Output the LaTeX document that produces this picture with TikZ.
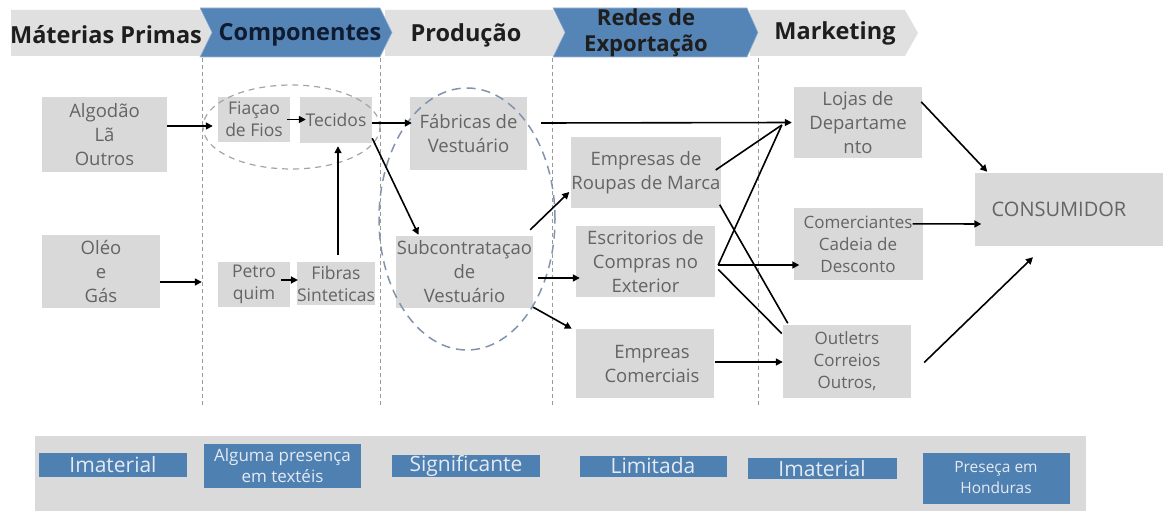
\documentclass[tikz,border=0pt]{standalone}
\usepackage{fontspec}
\setmainfont{Open Sans}
\usetikzlibrary{arrows.meta}
\definecolor{boxgray}{HTML}{D9D9D9}
\definecolor{bandgray}{HTML}{DADADA}
\definecolor{hgray}{HTML}{E0E0E0}
\definecolor{hblue}{HTML}{5584B6}
\definecolor{bblue}{HTML}{4F80B2}
\definecolor{txt}{HTML}{646464}
\definecolor{htxt}{HTML}{1E1E1E}
\definecolor{ctxt}{HTML}{0E1B30}
\definecolor{vline}{HTML}{9A9A9A}
\definecolor{ell}{HTML}{8094AE}
\definecolor{wtxt}{HTML}{E4EAF2}
\begin{document}
\begin{tikzpicture}[x=1pt,y=-1pt,
  box/.style={fill=boxgray, text=txt, align=center, inner sep=0pt,
    font=\fontsize{18.5}{24}\selectfont},
  sbox/.style={box, font=\fontsize{17.5}{22}\selectfont},
  tag/.style={fill=bblue, text=wtxt, align=center, inner sep=0pt,
    font=\fontsize{21}{22}\selectfont},
  smalltag/.style={tag, font=\fontsize{17}{21}\selectfont},
  htext/.style={text=htxt, font=\fontsize{23.5}{26}\selectfont\bfseries, align=center, inner sep=0pt},
  arr/.style={draw=black, line width=1.6pt, -{Triangle[length=7pt,width=7pt]}},
  ln/.style={draw=black, line width=1.6pt},
  sep/.style={draw=vline, line width=1pt, dash pattern=on 4pt off 3pt},
]
\useasboundingbox (0,0) rectangle (1163,511);

% header
\fill[hgray] (11,10) -- (200,10) -- (212,33) -- (200,56) -- (11,56) -- cycle;
\fill[hgray] (385,10) -- (553,10) -- (565,33) -- (553,56) -- (385,56) -- cycle;
\fill[hgray] (750,10) -- (905,10) -- (918,33) -- (905,56) -- (750,56) -- cycle;
\filldraw[fill=hblue, draw=hblue!60!white, line width=0.6pt] (200,8) -- (380,8) -- (392,32.5) -- (380,57) -- (200,57) -- (212,32.5) -- cycle;
\filldraw[fill=hblue, draw=hblue!60!white, line width=0.6pt] (553,8) -- (747,8) -- (758,32.5) -- (747,57) -- (553,57) -- (565,32.5) -- cycle;

\node[htext] (h1) at (106,35) {Máterias Primas};
\node[htext, text=ctxt] (h2) at (300,35) {Componentes};
\node[htext] (h3) at (466,35) {Produção};
\node[htext, font=\fontsize{22}{26}\selectfont\bfseries] (h4) at (646,33) {Redes de\\Exportação};
\node[htext] (h5) at (835,33) {Marketing};

% separators
\draw[sep] (202,58) -- (202,405);
\draw[sep] (380,58) -- (380,405);
\draw[sep] (552,58) -- (552,405);
\draw[sep] (758,58) -- (758,405);

% bottom band
\fill[bandgray] (35,436) rectangle (1086,511);
\node[tag, minimum width=148pt, minimum height=24pt] (b1) at (113,465) {Imaterial};
\node[smalltag, minimum width=157pt, minimum height=44pt] (b2) at (282.5,466) {Alguma presença\\em textéis};
\node[tag, minimum width=148pt, minimum height=22pt] (b3) at (466,466) {Significante};
\node[tag, minimum width=147pt, minimum height=21pt] (b4) at (653,466) {Limitada};
\node[tag, minimum width=149pt, minimum height=21pt] (b5) at (822,468.5) {Imaterial};
\node[smalltag, minimum width=147pt, minimum height=51pt, font=\fontsize{15.5}{21}\selectfont] (b6) at (996,478) {Preseça em\\Honduras};

% nodes
\node[box, minimum width=125pt, minimum height=75pt] (alg) at (104.5,134.5) {Algodão\\Lã\\Outros};
\node[box, minimum width=118pt, minimum height=73pt] (oleo) at (101,271.5) {Oléo\\e\\Gás};
\node[sbox, minimum width=72pt, minimum height=45pt] (fiacao) at (254,119.5) {Fiaçao\\de Fios};
\node[sbox, minimum width=72pt, minimum height=46pt] (tecidos) at (336,120) {Tecidos};
\node[sbox, minimum width=72pt, minimum height=45pt] (petro) at (254,284.5) {Petro\\quim};
\node[sbox, minimum width=72pt, minimum height=43pt] (fibras) at (336,283.5) {Fibras\\Sinteticas};
\node[box, minimum width=117pt, minimum height=73pt] (fabricas) at (468.5,133.5) {Fábricas de\\Vestuário};
\node[box, minimum width=137pt, minimum height=72pt] (subc) at (464.5,272) {Subcontrataçao\\de\\Vestuário};
\node[box, minimum width=144pt, minimum height=71pt] (empresas) at (646,172.5) {Empresas de\\Roupas de Marca};
\node[box, minimum width=139pt, minimum height=71pt] (escrit) at (645.5,261.5) {Escritorios de\\Compras no\\Exterior};
\node[box, minimum width=138pt, minimum height=69pt] (empreas) at (645,363.5) {\hspace*{14pt}Empreas\\\hspace*{14pt}Comerciais};
\node[box, minimum width=128pt, minimum height=71pt] (lojas) at (858,122.5) {Lojas de\\Departame\\nto};
\node[box, minimum width=129pt, minimum height=72pt, font=\fontsize{17}{22}\selectfont] (comerc) at (858,244) {Comerciantes\\Cadeia de\\Desconto};
\node[box, minimum width=128pt, minimum height=73pt, font=\fontsize{17}{22}\selectfont] (outlets) at (847,361) {Outletrs\\Correios\\Outros,};
\node[box, minimum width=189pt, minimum height=73pt, font=\fontsize{20}{24}\selectfont] (cons) at (1069,209.5) {CONSUMIDOR\hspace*{20pt}};

% dashed ellipses
\draw[draw=vline!90, line width=1.2pt, dash pattern=on 6pt off 5pt] (291.5,127) ellipse [x radius=88.5pt, y radius=42pt];
\draw[draw=ell, line width=1.5pt, dash pattern=on 9pt off 6pt] (467,219) ellipse [x radius=88pt, y radius=131pt];

% connectors
\draw[arr] ([yshift=8.5pt]alg.east) -- ([yshift=8.5pt,xshift=-5pt]alg.east -| fiacao.west);
\draw[arr] ([yshift=-10.5pt]oleo.east) -- ([yshift=-10.5pt,xshift=-16pt]oleo.east -| petro.west);
\draw[arr] ([xshift=-3pt]fiacao.east) -- ([xshift=6pt]fiacao.east -| tecidos.west);
\draw[arr] ([xshift=-9pt,yshift=4.5pt]petro.east) -- ([xshift=1pt,yshift=4.5pt]petro.east -| fibras.west);
\draw[arr] ([xshift=2pt,yshift=7pt]fibras.north) -- ([xshift=2pt,yshift=-3pt]tecidos.south);
\draw[arr] ([yshift=-3pt]tecidos.east) -- ([yshift=-3pt,xshift=2pt]tecidos.east -| fabricas.west);
\draw[arr] ([yshift=5pt]tecidos.south east) -- ([xshift=-46pt,yshift=1pt]subc.north);
\draw[arr] ([xshift=14pt,yshift=10.5pt]fabricas.east) -- ([xshift=-2pt]lojas.west);
\draw[ln] ([xshift=-5pt,yshift=2.5pt]empresas.east) -- ([xshift=-12pt,yshift=-2.5pt]lojas.west);
\draw[ln] ([xshift=3pt,yshift=-3.5pt]escrit.east) -- ([xshift=-12pt,yshift=-2.5pt]lojas.west);
\draw[arr] ([xshift=3pt,yshift=-3.5pt]escrit.east) -- ([xshift=6pt,yshift=-21pt]comerc.west);
\draw[ln] ([xshift=3pt,yshift=-8pt]escrit.east) -- ([xshift=-1pt,yshift=27.5pt]outlets.west);
\draw[ln] ([xshift=-1pt,yshift=3.5pt]empresas.south east) -- ([xshift=5pt,yshift=1pt]outlets.north west);
\draw[arr] ([xshift=1pt,yshift=1.5pt]empreas.east) -- ([yshift=-1pt]outlets.west);
\draw[arr] ([xshift=-3pt,yshift=6pt]subc.north east) -- ([xshift=-2pt,yshift=-19.5pt]empresas.west);
\draw[arr] ([xshift=5pt,yshift=-6pt]subc.east) -- ([xshift=4pt,yshift=-16.5pt]escrit.west);
\draw[arr] ([yshift=1pt]subc.south east) -- ([xshift=-4pt]empreas.north west);
\draw[arr] ([xshift=-1pt,yshift=-15pt]lojas.north east) -- ([xshift=13pt,yshift=1pt]cons.north west);
\draw[arr] ([xshift=-10pt,yshift=-16pt]comerc.north east) -- ([xshift=7pt,yshift=-14.5pt]cons.west);
\draw[arr] ([xshift=13pt,yshift=-1.5pt]outlets.east) -- ([xshift=-36pt,yshift=-11pt]cons.south);
\end{tikzpicture}
\end{document}
